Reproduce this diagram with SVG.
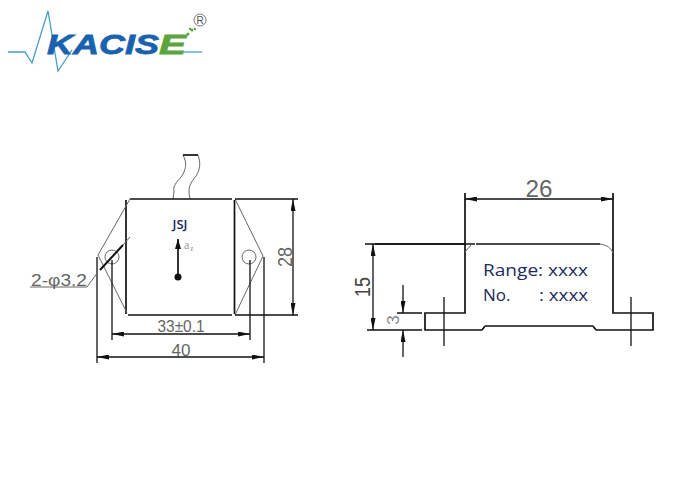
<svg xmlns="http://www.w3.org/2000/svg" width="700" height="500" viewBox="0 0 700 500">
<style>
.k{fill:none;stroke:#111;stroke-width:1.7}
.g{fill:none;stroke:#666;stroke-width:1}
.d{fill:none;stroke:#111;stroke-width:1.3}
.a{fill:none;stroke:#111;stroke-width:1.3;marker-start:url(#ah);marker-end:url(#ah)}
.t{font-family:"Liberation Sans",Arial,sans-serif;fill:#666;font-size:17px;text-anchor:middle}
.b{font-family:"Open Sans",sans-serif;fill:#1d2a5c}
</style>
<defs>
<marker id="ah" viewBox="0 0 12 5" refX="12" refY="2.5" markerWidth="12" markerHeight="5" markerUnits="userSpaceOnUse" orient="auto-start-reverse"><path d="M0 0L12 2.5L0 5Z" fill="#111"/></marker>
<marker id="up" viewBox="0 0 10 6" refX="10" refY="3" markerWidth="10" markerHeight="6" markerUnits="userSpaceOnUse" orient="auto"><path d="M0 0L10 3L0 6Z" fill="#111"/></marker>
</defs>
<rect width="700" height="500" fill="#fff"/>
<g id="logo">
<polyline points="8,52 25,52 32,63 48,11 58,71 72,50" fill="none" stroke="#4a9cc9" stroke-width="1.3"/>
<line x1="183" y1="52" x2="202" y2="52" stroke="#4a9cc9" stroke-width="1.3"/>
<text x="47" y="54" font-family="'Liberation Sans',Arial,sans-serif" font-size="28" font-weight="700" font-style="italic" fill="#1a62b0" stroke="#1a62b0" stroke-width="0.8" textLength="112" lengthAdjust="spacingAndGlyphs">KACIS</text>
<text x="159" y="54" font-family="'Liberation Sans',Arial,sans-serif" font-size="28" font-weight="700" font-style="italic" fill="#5aa63c" stroke="#5aa63c" stroke-width="0.8" textLength="27" lengthAdjust="spacingAndGlyphs">E</text>
<g fill="#5aa63c"><circle cx="188" cy="34" r="1.500"/><circle cx="192" cy="30" r="1.500"/><circle cx="195" cy="29" r="1.200"/><circle cx="190" cy="29" r="1.200"/></g>
<circle cx="200" cy="20" r="6" fill="none" stroke="#555" stroke-width="0.8"/>
<text x="200" y="24" font-family="'Liberation Sans',Arial,sans-serif" font-size="10" fill="#555" text-anchor="middle">R</text>
</g>
<g id="front-view">
<path class="g" d="M183 155C187 163 186 168 183 174C180 180 172 184 174 192L173 199M198 155C201 163 200 170 196 176C191 183 187 186 190 199"/>
<line x1="183" y1="155" x2="198" y2="155" class="k"/>
<path class="k" d="M130 199H232M126 200V314M234.500 200V314M128 315H232"/>
<path class="g" d="M130 199L98 255L127 313M235 199L263 256L235 315"/>
<circle class="g" cx="112" cy="257" r="7"/>
<circle class="g" cx="249" cy="257" r="7"/>
<line class="k" x1="178" y1="277" x2="178" y2="239" marker-end="url(#up)"/>
<circle cx="178" cy="277" r="3.500" fill="#111"/>
<text x="184" y="249" font-family="'Liberation Serif',serif" font-size="12" fill="#999">a</text>
<text x="190" y="251" font-family="'Liberation Serif',serif" font-size="8" fill="#999">z</text>
<text class="b" x="180" y="229" font-size="13" font-weight="600" text-anchor="middle">JSJ</text>
</g>
<g id="side-view">
<path class="k" d="M375 244H475M476 244H600M465 193V313H425V330H482M485 326H593M596 330H653V313H613V193M482 330L485 326M593 326L596 330"/>
<path class="g" d="M600 244C607 245 611 248 613 253M472 244L465 252"/>
<text class="b" x="483" y="276" font-size="17" textLength="105" lengthAdjust="spacingAndGlyphs">Range: xxxx</text>
<text class="b" x="483" y="301" font-size="17">No.</text>
<text class="b" x="539" y="301" font-size="17" textLength="49" lengthAdjust="spacingAndGlyphs">: xxxx</text>
</g>
<g id="connectors">
<path class="d" d="M97 257V363M264 257V363M112 260V340M250 260V340M235 199H298M235 315H298"/>
<line class="a" x1="112" y1="334" x2="250" y2="334"/>
<line class="a" x1="97" y1="357" x2="264" y2="357"/>
<line class="a" x1="293" y1="199" x2="293" y2="315"/>
<line x1="100" y1="270" x2="123" y2="245" stroke="#111" stroke-width="2"/>
<line class="g" x1="123" y1="245" x2="130" y2="237"/>
<path class="g" d="M30 287H87L98 272"/>
<line class="a" x1="465" y1="199" x2="613" y2="199"/>
<path class="d" d="M365 244H465M367 330H422M397 313H422M444 297V346M631 297V346"/>
<line class="a" x1="373" y1="244" x2="373" y2="330"/>
<line class="d" x1="403" y1="285" x2="403" y2="313" marker-end="url(#ah)"/>
<line class="d" x1="403" y1="357" x2="403" y2="330" marker-end="url(#ah)"/>
</g>
<g id="dimension-labels">
<text class="t" x="59" y="286" textLength="56" lengthAdjust="spacingAndGlyphs">2-φ3.2</text>
<text class="t" x="181" y="332" textLength="47" lengthAdjust="spacingAndGlyphs">33±0.1</text>
<text class="t" x="181" y="356" textLength="19" lengthAdjust="spacingAndGlyphs">40</text>
<text class="t" transform="translate(292 257) rotate(-90)" style="font-size:20px" textLength="20" lengthAdjust="spacingAndGlyphs">28</text>
<text class="t" x="539" y="197" style="font-size:23px" textLength="27" lengthAdjust="spacingAndGlyphs">26</text>
<text class="t" transform="translate(370 287) rotate(-90)" style="fill:#444;font-size:22px" textLength="20" lengthAdjust="spacingAndGlyphs">15</text>
<text class="t" transform="translate(399 320) rotate(-90)" style="fill:#888">3</text>
</g>
</svg>
